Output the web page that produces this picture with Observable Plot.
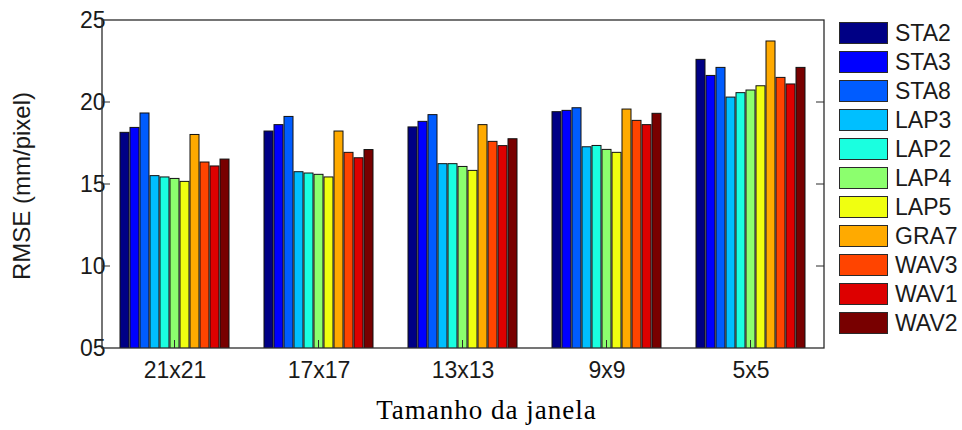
<!DOCTYPE html>
<html>
<head>
<meta charset="utf-8">
<script src="https://cdn.jsdelivr.net/npm/d3@7"></script>
<script src="https://cdn.jsdelivr.net/npm/@observablehq/plot@0.6"></script>
<style>
  html, body { margin: 0; padding: 0; background: #fff; overflow: hidden; }
  #wrap { position: relative; width: 962px; height: 430px; overflow: hidden; font-family: "Liberation Sans", Arial, sans-serif; }
  #legend { position: absolute; left: 839px; top: 22px; }
  .item { position: absolute; left: 0; height: 22px; white-space: nowrap; }
  .sw { position: absolute; left: 0; top: 0; width: 47px; height: 20px; border: 1px solid #2a2a2a; }
  .lb { position: absolute; left: 56px; top: -2px; font-size: 23px; line-height: 26px; color: #1a1a1a; }
  #xtitle { position: absolute; left: 0; top: 397px; width: 973px; text-align: center; font-family: "Liberation Serif", "Times New Roman", serif; font-size: 27px; line-height: 27px; letter-spacing: 1px; color: #000; white-space: nowrap; }
</style>
</head>
<body>
<div id="wrap">
  <div id="chart"></div>
  <div id="legend"></div>
  <div id="xtitle"></div>
</div>
<script>
// ---- data ----
const groups = ["21x21", "17x17", "13x13", "9x9", "5x5"];
const methods = ["STA2", "STA3", "STA8", "LAP3", "LAP2", "LAP4", "LAP5", "GRA7", "WAV3", "WAV1", "WAV2"];
const colors = ["#000085", "#0000ff", "#005cff", "#00bfff", "#1affe0", "#8cff6e", "#f0ff10", "#ffaa00", "#ff4400", "#dd0000", "#780000"];
const v21x21 = [18.15, 18.45, 19.33, 15.51, 15.43, 15.34, 15.16, 18.02, 16.34, 16.10, 16.52];
const v17x17 = [18.23, 18.62, 19.12, 15.75, 15.67, 15.59, 15.43, 18.23, 16.93, 16.60, 17.10];
const v13x13 = [18.48, 18.82, 19.23, 16.24, 16.24, 16.07, 15.83, 18.62, 17.60, 17.34, 17.76];
const v9x9   = [19.41, 19.49, 19.65, 17.27, 17.35, 17.11, 16.93, 19.57, 18.88, 18.62, 19.31];
const v5x5   = [22.60, 21.62, 22.11, 20.30, 20.57, 20.73, 20.99, 23.72, 21.50, 21.10, 22.11];
const yTicks = [5, 10, 15, 20, 25];
const yTickLabels = ["05", "10", "15", "20", "25"];
const yLabel = "RMSE (mm/pixel)";
const xLabel = "Tamanho da janela";

const seriesByGroup = [v21x21, v17x17, v13x13, v9x9, v5x5];
const data = groups.flatMap((g, gi) => methods.map((m, mi) => ({group: g, method: m, value: seriesByGroup[gi][mi]})));

const W = 962, H = 385, mL = 102, mR = 138, mT = 20, mB = 37;

const plot = Plot.plot({
  width: W, height: H,
  marginLeft: mL, marginRight: mR, marginTop: mT, marginBottom: mB,
  style: {fontSize: "23px", fontFamily: "'Liberation Sans', Arial, sans-serif", color: "#1a1a1a", background: "#fff", overflow: "visible"},
  fx: {domain: groups, paddingInner: 0.2, paddingOuter: 0.1, axis: "bottom", label: null, tickSize: 0, tickPadding: 13},
  x: {domain: methods, padding: 0.1, axis: null},
  y: {domain: [yTicks[0], yTicks[yTicks.length - 1]], axis: "left", ticks: yTicks, tickFormat: d => yTickLabels[yTicks.indexOf(d)], tickSize: 0, tickPadding: 12, label: null},
  color: {domain: methods, range: colors},
  marks: [
    Plot.barY(data, {fx: "group", x: "method", y: "value", fill: "method", stroke: "#111", strokeWidth: 1, clip: true})
  ]
});
document.getElementById("chart").appendChild(plot);

// frame, inward ticks, y label using the plot's own scales
const svg = d3.select(plot);
const ys = plot.scale("y"), fxs = plot.scale("fx");
const y0 = ys.apply(yTicks[0]), y1 = ys.apply(yTicks[yTicks.length - 1]);
const xl = mL, xr = W - mR;
const g = svg.append("g").attr("stroke", "#2b2b2b").attr("fill", "none");
g.append("rect").attr("x", xl).attr("y", y1).attr("width", xr - xl).attr("height", y0 - y1).attr("stroke-width", 1.3);
yTicks.slice(1, -1).forEach(t => {
  const yy = ys.apply(t);
  g.append("line").attr("x1", xl).attr("x2", xl + 8).attr("y1", yy).attr("y2", yy);
  g.append("line").attr("x1", xr).attr("x2", xr - 8).attr("y1", yy).attr("y2", yy);
});
groups.forEach(gr => {
  const cx = fxs.apply(gr) + fxs.bandwidth / 2;
  g.append("line").attr("x1", cx).attr("x2", cx).attr("y1", y0).attr("y2", y0 - 8);
});
svg.append("text")
  .attr("transform", `translate(22,${(y0 + y1) / 2 + 2}) rotate(-90)`)
  .attr("text-anchor", "middle").attr("dy", "0.35em")
  .attr("font-size", 24).attr("fill", "#1a1a1a")
  .text(yLabel);

// legend
const legend = document.getElementById("legend");
methods.forEach((m, i) => {
  const it = document.createElement("div");
  it.className = "item";
  it.style.top = (i * 29) + "px";
  const sw = document.createElement("div");
  sw.className = "sw"; sw.style.background = colors[i];
  const lb = document.createElement("div");
  lb.className = "lb"; lb.textContent = m;
  it.appendChild(sw); it.appendChild(lb);
  legend.appendChild(it);
});
document.getElementById("xtitle").textContent = xLabel;
</script>
</body>
</html>
